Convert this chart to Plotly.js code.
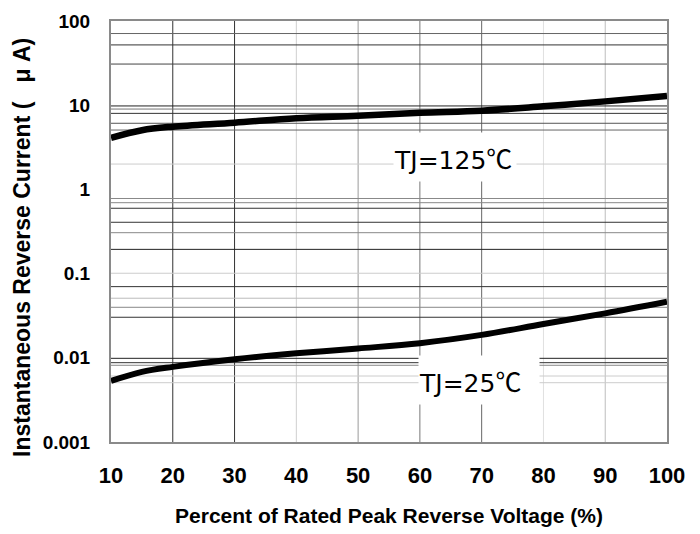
<!DOCTYPE html>
<html>
<head>
<meta charset="utf-8">
<script src="https://cdn.plot.ly/plotly-3.0.1.min.js"></script>
<style>html,body{margin:0;padding:0;background:#fff;}#chart{width:700px;height:534px;}</style>
</head>
<body>
<div id="chart"></div>
<script>
// Percent of rated peak reverse voltage (%)
var voltagePct = [10, 15, 20, 30, 40, 50, 60, 70, 80, 90, 100];
// Instantaneous reverse current (uA)
var currentTJ125 = [4.1, 5.05, 5.56, 6.2, 7.0, 7.5, 8.15, 8.6, 9.7, 11.1, 12.85];
var currentTJ25 = [0.0053, 0.0068, 0.0078, 0.0096, 0.0113, 0.0129, 0.0149, 0.0187, 0.0252, 0.0337, 0.0463];

var xTicks = [10, 20, 30, 40, 50, 60, 70, 80, 90, 100];
var yTickVals = [0.001, 0.01, 0.1, 1, 10, 100];
var yTickText = ['0.001', '0.01', '0.1', '1', '10', '100'];

// grid lines as they appear on the scanned datasheet
var vGridVals = [20, 30, 40, 50, 60, 70, 80, 90];
var vGridColors = ['#333333', '#333333', '#cfcfcf', '#9a9a9a', '#777777', '#666666', '#e0e0e0', '#bdbdbd'];
var hGridVals = [71, 52, 30.8, 9.8, 9.0, 8.0, 6.1, 5.07, 2.0, 0.78, 0.695, 0.597, 0.407, 0.306, 0.194, 0.101, 0.07, 0.051, 0.0398, 0.0303, 0.00986, 0.00875, 0.00815, 0.00608, 0.00506];
var hGridColors = ['#666666', '#333333', '#444444', '#222222', '#777777', '#333333', '#555555', '#666666', '#cccccc', '#888888', '#888888', '#333333', '#333333', '#888888', '#222222', '#cccccc', '#333333', '#bbbbbb', '#888888', '#333333', '#222222', '#333333', '#888888', '#cccccc', '#cccccc'];

var degC = '<span style="font-family:\'Noto Sans CJK SC\';font-size:26px">\u2103</span>';
var labels = ['TJ=125' + degC, 'TJ=25' + degC];
var xTitle = 'Percent of Rated Peak Reverse Voltage (%)';
var yTitle = 'Instantaneous Reverse Current (\u00a0\u00a0\u00a0\u03bc A)';

var shapes = [];
vGridVals.forEach(function (v, i) {
  shapes.push({type: 'line', xref: 'x', yref: 'paper', x0: v, x1: v, y0: 0, y1: 1,
    line: {color: vGridColors[i], width: 1}, layer: 'below'});
});
hGridVals.forEach(function (v, i) {
  shapes.push({type: 'line', xref: 'paper', yref: 'y', x0: 0, x1: 1, y0: v, y1: v,
    line: {color: hGridColors[i], width: 1}, layer: 'below'});
});

var traces = [
  {x: voltagePct, y: currentTJ125, mode: 'lines', line: {color: '#000', width: 6.5, shape: 'spline'}, hoverinfo: 'none'},
  {x: voltagePct, y: currentTJ25, mode: 'lines', line: {color: '#000', width: 6, shape: 'spline'}, hoverinfo: 'none'}
];

var layout = {
  width: 700, height: 534,
  margin: {l: 111, r: 33, t: 21, b: 92},
  paper_bgcolor: '#fff', plot_bgcolor: '#fff',
  showlegend: false,
  font: {family: 'Liberation Sans, Arial, sans-serif', color: '#000'},
  xaxis: {
    range: [10, 100], tickvals: xTicks, ticktext: xTicks.map(String),
    showgrid: false, zeroline: false,
    showline: true, mirror: true, linecolor: '#8a8a8a', linewidth: 2,
    ticks: '', ticklabelstandoff: 13,
    tickfont: {size: 22, weight: 'bold', color: '#000'},
    title: {text: xTitle, font: {size: 21, weight: 'bold', color: '#000'}, standoff: 21}
  },
  yaxis: {
    type: 'log', range: [-3, 2], tickvals: yTickVals, ticktext: yTickText,
    showgrid: false, zeroline: false,
    showline: true, mirror: true, linecolor: '#8a8a8a', linewidth: 2,
    ticks: '', ticklabelstandoff: 15,
    tickfont: {size: 19, weight: 'bold', color: '#000'}
  },
  shapes: shapes,
  annotations: [
    {x: -0.16, y: 0.461, xref: 'paper', yref: 'paper', xanchor: 'center', yanchor: 'middle',
     text: yTitle, textangle: -90, showarrow: false,
     font: {size: 23, weight: 'bold', color: '#000'}},
    {x: 55.7, y: Math.log10(2.4), xref: 'x', yref: 'y', xanchor: 'left', yanchor: 'middle',
     text: labels[0], showarrow: false, bgcolor: '#fff', width: 122, height: 48, align: 'left', borderpad: 0,
     font: {family: 'DejaVu Sans, sans-serif', size: 25, color: '#000'}},
    {x: 59.7, y: Math.log10(0.0054), xref: 'x', yref: 'y', xanchor: 'left', yanchor: 'middle',
     text: labels[1], showarrow: false, bgcolor: '#fff', width: 120, height: 48, align: 'left', borderpad: 0,
     font: {family: 'DejaVu Sans, sans-serif', size: 25, color: '#000'}}
  ]
};

Plotly.newPlot('chart', traces, layout, {staticPlot: true, displayModeBar: false});
</script>
</body>
</html>
